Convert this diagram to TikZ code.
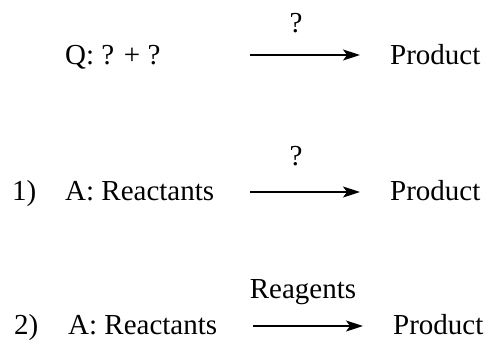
\documentclass[tikz,border=0pt]{standalone}
\usepackage{fontspec}
\setmainfont{Liberation Serif}
\usetikzlibrary{arrows.meta}
\begin{document}
\begin{tikzpicture}[x=1pt,y=-1pt,
  txt/.style={anchor=base west,inner sep=0pt,font=\fontsize{29}{34}\selectfont},
  lbl/.style={anchor=base,inner sep=0pt,font=\fontsize{29}{34}\selectfont},
  rxn/.style={line width=1.3pt,-{Stealth[length=17pt,width=11pt,inset=4pt]}}]
\useasboundingbox (0,0) rectangle (488,341);
% row 1
\node[txt] (q) at (65,64) {Q: ? + ?};
\node[txt] (p1) at (390,64) {Product};
\coordinate (a1s) at (250,55);
\coordinate (a1e) at (360,55);
\draw[rxn] (a1s) -- (a1e);
\node[lbl] (l1) at (296,32) {?};
% row 2
\node[txt] (n1) at (12,200) {1)};
\node[txt] (r1) at (65,200) {A: Reactants};
\node[txt] (p2) at (390,200) {Product};
\coordinate (a2s) at (250,192);
\coordinate (a2e) at (360,192);
\draw[rxn] (a2s) -- (a2e);
\node[lbl] (l2) at (296,165) {?};
% row 3
\node[txt] (n2) at (14,334) {2)};
\node[txt] (r2) at (68,334) {A: Reactants};
\node[txt] (p3) at (393,334) {Product};
\coordinate (a3s) at (253,326);
\coordinate (a3e) at (363,326);
\draw[rxn] (a3s) -- (a3e);
\node[lbl] (l3) at (303,298) {Reagents};
\end{tikzpicture}
\end{document}
